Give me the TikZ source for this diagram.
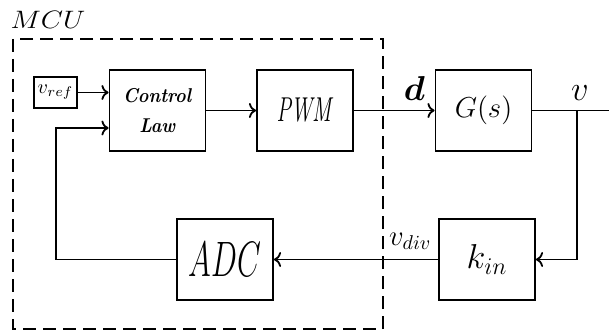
\documentclass[tikz,border=0pt]{standalone}
\usepackage{amsmath,amssymb}
\usepackage{tikz}
\usetikzlibrary{arrows.meta}

\begin{document}
\begin{tikzpicture}[x=0.5pt,y=-0.5pt,>=To,line width=0.9pt]
\tikzset{blk/.style={draw,minimum width=48pt,minimum height=40.5pt,inner sep=0pt},
  refbox/.style={draw,minimum width=21.5pt,minimum height=15.5pt,inner sep=0pt}}
\useasboundingbox (0,0) rectangle (609,331);
% microcontroller boundary
\draw[dash pattern=on 6.5pt off 3.5pt] (13,39) rectangle (383,329);
\node (mcu) at (48,20) {\scalebox{1.2}[1.05]{\large $MCU$}};
% blocks
\node[refbox] (vref) at (55.5,92.5) {$v_{ref}$};
\node[blk,align=center] (ctrl) at (157.5,110.5) {\scalebox{0.9}[1]{\textbf{\textit{Control}}}\\[3pt] \scalebox{0.9}[1]{\textbf{\textit{Law}}}};
\node[blk] (pwm) at (305,110.5) {\scalebox{0.63}[1]{\LARGE\textit{PWM}}};
\node[blk] (plant) at (483.5,110.5) {\Large $G(s)$};
\node[blk] (kin) at (487,259.5) {\LARGE $k_{in}$};
\node[blk] (adc) at (225,259.5) {\scalebox{0.62}[1]{\Huge $ADC$}};
\coordinate (out) at (609,110.5);
\coordinate (br) at (577,110.5);
\coordinate (fb) at (56,128);
% signals
\draw[->] (vref) -- (vref -| ctrl.west);
\draw[->] (ctrl) -- (pwm);
\draw[->] (pwm) -- node[above=1pt,pos=0.75]{\LARGE $\boldsymbol{d}$} (plant);
\draw (plant) -- node[above=1pt,pos=0.62]{\LARGE $v$} (out);
\draw[->] (br) |- (kin);
\draw[->] (kin) -- node[above=1pt,pos=0.17]{\Large $v_{div}$} (adc);
\draw[->] (adc) -| (fb) -- (fb -| ctrl.west);
\end{tikzpicture}
\end{document}
